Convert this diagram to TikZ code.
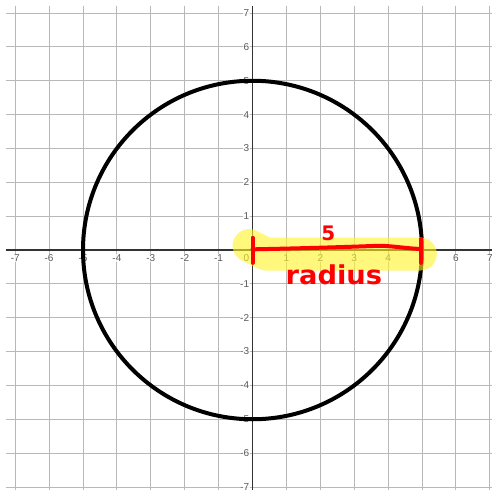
\documentclass[tikz,border=0pt]{standalone}
\usepackage{fontspec}
\setsansfont{Liberation Sans}
\newfontfamily\handfont{DejaVu Sans}
\begin{document}
\begin{tikzpicture}[x=1pt,y=-1pt,
  gridline/.style={draw=black!28,line width=0.9pt},
  axisline/.style={draw=black!80,line width=1.2pt},
  ticklab/.style={font=\sffamily\fontsize{10}{10}\selectfont,text=black!65,inner sep=0.5pt,fill=white,fill opacity=0.8,text opacity=1},
  curve/.style={draw=black,line width=4pt},
  marker/.style={draw=red,line width=4pt,line cap=round,line join=round},
  hilite/.style={draw=yellow!85!white,opacity=0.6,line width=33pt,line cap=round,line join=round},
  hand/.style={text=red,font=\handfont\bfseries}]
\useasboundingbox (0,0) rectangle (492,490);
\fill[white] (0,0) rectangle (492,490);
\begin{scope}[shift={(252.5,250)},x=33.9pt,y=33.85pt]
  % grid
  \foreach \k in {-7,...,7} {
    \ifnum\k=0\else
      \draw[gridline] (\k,7.21) -- (\k,-7.1);
      \draw[gridline] (-7.27,\k) -- (7.1,\k);
    \fi
  }
  \draw[axisline] (-7.27,0) -- (7.1,0);
  \draw[axisline] (0,7.21) -- (0,-7.1);
  % labels
  \foreach \k in {-7,...,-1,1,2,...,7} {
    \node[ticklab,anchor=north] (xl\k) at (\k,-0.12) {\ifnum\k<0 -\the\numexpr-\k\relax\else\k\fi};
    \node[ticklab,anchor=east] (yl\k) at (-0.08,\k) {\ifnum\k<0 -\the\numexpr-\k\relax\else\k\fi};
  }
  \node[ticklab,anchor=north east] (zero) at (-0.08,-0.12) {0};
  % circle
  \coordinate (O) at (0,0);
  \draw[curve] (O) circle (5);
  % highlighter
  \coordinate (h1) at (-0.1,0.13);
  \coordinate (h2) at (0.4,-0.12);
  \coordinate (h3) at (4.95,-0.12);
  \draw[hilite] (h1) -- (h2) -- (h3);
  % red marker
  \coordinate (lt) at (0,0.36);
  \coordinate (lb) at (0,-0.38);
  \coordinate (rt) at (4.98,0.33);
  \coordinate (rb) at (4.98,-0.38);
  \draw[marker] (lt) -- (lb);
  \draw[marker] (rt) -- (rb);
  \draw[marker] (0,0.02) .. controls (1.5,0.05) and (2.5,0.08) .. (3.6,0.12)
     .. controls (4.1,0.14) and (4.4,0.05) .. (4.98,0.03);
  \node[hand,font=\handfont\bfseries\fontsize{20}{20}\selectfont] (five) at (2.24,0.5) {5};
  \node[hand,font=\handfont\bfseries\fontsize{26}{26}\selectfont,xscale=1.05] (rad) at (2.4,-0.72) {radius};
\end{scope}
\end{tikzpicture}
\end{document}
